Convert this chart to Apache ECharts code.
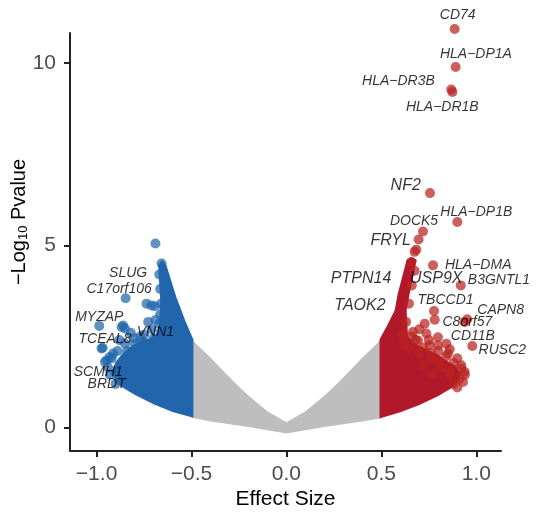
<!DOCTYPE html>
<html>
<head>
<meta charset="utf-8">
<script src="https://cdn.jsdelivr.net/npm/echarts@6/dist/echarts.min.js"></script>
<style>
  html, body { margin: 0; padding: 0; background: #fff; }
  #main { width: 536px; height: 512px; }
</style>
</head>
<body>
<div id="main"></div>
<script>
// axis ticks
const xTicks = [-1, -0.5, 0, 0.5, 1];
const yTicks = [0, 5, 10];

// envelope of the dense, non significant cloud (upper edge then lower edge)
const grayBand = [
  [-0.5, 2.42], [-0.45, 2.17], [-0.4, 1.92], [-0.35, 1.65], [-0.3, 1.38], [-0.25, 1.12],
  [-0.2, 0.88], [-0.15, 0.66], [-0.1, 0.45], [-0.05, 0.3], [0, 0.15], [0.05, 0.3],
  [0.1, 0.45], [0.15, 0.66], [0.2, 0.88], [0.25, 1.12], [0.3, 1.38], [0.35, 1.65],
  [0.4, 1.92], [0.45, 2.17], [0.5, 2.43],
  [0.5, 0.26], [0.4, 0.17], [0.3, 0.09], [0.2, 0.02], [0.1, -0.07], [0, -0.16],
  [-0.1, -0.07], [-0.2, 0.02], [-0.3, 0.09], [-0.4, 0.17], [-0.5, 0.27]
];

// dense part of the down regulated genes
const blueBand = [
  [-0.49, 0.27], [-0.6, 0.43], [-0.7, 0.64], [-0.8, 0.9], [-0.87, 1.12], [-0.9, 1.3],
  [-0.92, 1.55], [-0.9, 1.8], [-0.87, 2.0], [-0.83, 2.2], [-0.78, 2.35], [-0.72, 2.45],
  [-0.68, 2.6], [-0.67, 3.0], [-0.665, 3.5], [-0.676, 4.45], [-0.655, 4.6], [-0.632, 4.45],
  [-0.58, 3.58], [-0.53, 2.9], [-0.49, 2.42]
];

// dense part of the up regulated genes
const redBand = [
  [0.49, 0.25], [0.6, 0.42], [0.7, 0.62], [0.8, 0.87], [0.875, 1.1], [0.91, 1.3],
  [0.92, 1.5], [0.89, 1.7], [0.84, 1.85], [0.8, 2.0], [0.74, 2.15], [0.68, 2.3],
  [0.64, 2.5], [0.633, 3.22], [0.649, 3.67], [0.686, 4.6], [0.66, 4.68], [0.633, 4.6],
  [0.586, 3.67], [0.57, 3.22], [0.53, 2.8], [0.49, 2.42]
];

// single genes, down
const bluePoints = [
  [-0.69, 5.05], [-0.658, 4.5], [-0.847, 3.55], [-0.737, 3.4], [-0.711, 3.35], [-0.628, 3.44],
  [-0.693, 3.33], [-0.728, 2.9], [-0.986, 2.79], [-0.868, 2.76], [-0.851, 2.72], [-0.86, 2.8],
  [-0.968, 2.19], [-0.974, 2.17], [-0.913, 2.03], [-0.947, 1.85], [-0.93, 1.94], [-0.956, 1.8],
  [-0.755, 2.35], [-0.711, 2.3], [-0.632, 2.58], [-0.605, 2.9], [-0.597, 3.22], [-0.632, 2.94],
  [-0.88, 1.3], [-0.9, 1.5], [-0.86, 1.7], [-0.82, 1.95], [-0.78, 2.15], [-0.74, 2.3],
  [-0.7, 2.45], [-0.66, 2.62], [-0.67, 2.85], [-0.665, 3.1], [-0.66, 3.4], [-0.665, 3.8],
  [-0.67, 4.2], [-0.8, 2.3], [-0.84, 2.1], [-0.77, 2.5],
  [-0.9, 1.2], [-0.93, 1.45], [-0.94, 1.65], [-0.92, 1.9], [-0.89, 2.1], [-0.85, 2.3],
  [-0.8, 2.45], [-0.75, 2.55], [-0.71, 2.7], [-0.69, 2.95], [-0.88, 2.4], [-0.82, 2.6]
];

// single genes, up
const redPoints = [
  [0.886, 10.93], [0.891, 9.89], [0.868, 9.27], [0.874, 9.2], [0.756, 6.43], [0.9, 5.64],
  [0.719, 5.38], [0.696, 5.16], [0.684, 4.88], [0.675, 4.82], [0.658, 4.54], [0.772, 4.45],
  [0.918, 3.9], [0.777, 3.2], [0.781, 2.96], [0.952, 2.97], [0.938, 2.9], [0.979, 2.24],
  [0.842, 2.3], [0.614, 2.58], [0.666, 2.62], [0.693, 2.39], [0.737, 2.58], [0.798, 2.48],
  [0.798, 2.26], [0.754, 2.26], [0.623, 2.26], [0.851, 2.03], [0.921, 1.71], [0.938, 1.53],
  [0.912, 1.34], [0.798, 1.8], [0.719, 1.71], [0.772, 1.48], [0.859, 1.43], [0.728, 2.85],
  [0.88, 1.2], [0.86, 1.55], [0.82, 1.65], [0.76, 1.9], [0.7, 2.05], [0.65, 2.2],
  [0.62, 2.45], [0.63, 2.9], [0.645, 3.4], [0.66, 3.9], [0.675, 4.3],
  [0.9, 1.1], [0.93, 1.25], [0.94, 1.45], [0.92, 1.62], [0.88, 1.78], [0.84, 1.95],
  [0.8, 2.1], [0.76, 2.05], [0.72, 2.2], [0.68, 2.4], [0.66, 2.5], [0.86, 2.15],
  [0.9, 1.9], [0.7, 2.7], [0.75, 2.4]
];

// gene labels: name, anchor x, anchor y, large text
const geneLabels = [
  ['CD74', 0.902, 11.31, 0], ['HLA\u2212DP1A', 0.998, 10.23, 0], ['HLA\u2212DR3B', 0.59, 9.5, 0],
  ['HLA\u2212DR1B', 0.821, 8.78, 0], ['NF2', 0.628, 6.65, 1], ['HLA\u2212DP1B', 1.0, 5.91, 0],
  ['DOCK5', 0.672, 5.66, 0], ['FRYL', 0.549, 5.12, 1], ['PTPN14', 0.393, 4.1, 1],
  ['USP9X', 0.789, 4.09, 1], ['HLA\u2212DMA', 1.01, 4.47, 0], ['B3GNTL1', 1.119, 4.04, 0],
  ['TAOK2', 0.387, 3.35, 1], ['TBCCD1', 0.838, 3.51, 0], ['CAPN8', 1.128, 3.22, 0],
  ['C8orf57', 0.953, 2.9, 0], ['CD11B', 0.982, 2.5, 0], ['RUSC2', 1.137, 2.12, 0],
  ['SLUG', -0.834, 4.25, 0], ['C17orf106', -0.881, 3.8, 0], ['MYZAP', -0.986, 3.02, 0],
  ['TCEAL8', -0.956, 2.44, 0], ['VNN1', -0.69, 2.62, 0], ['SCMH1', -0.991, 1.53, 0],
  ['BRDT', -0.947, 1.19, 0]
];

const FONT = '"Liberation Sans", Arial, Helvetica, sans-serif';
const BLUE = '#2166ac';
const RED = '#b2182b';

function band(points, color) {
  return {
    type: 'custom',
    silent: true,
    data: [[0, 0]],
    renderItem: function (params, api) {
      return {
        type: 'polygon',
        shape: { points: points.map(function (p) { return api.coord(p); }) },
        style: { fill: color }
      };
    }
  };
}

function dots(points, color) {
  return {
    type: 'scatter',
    data: points,
    symbolSize: 10,
    clip: false,
    silent: true,
    itemStyle: { color: color, opacity: 0.72 }
  };
}

const chart = echarts.init(document.getElementById('main'));
chart.setOption({
  animation: false,
  backgroundColor: '#fff',
  grid: { left: 70, right: 35, top: 33, bottom: 61, containLabel: false, outerBoundsMode: 'none' },
  xAxis: {
    type: 'value',
    min: -1.14,
    max: 1.13,
    name: 'Effect Size',
    nameLocation: 'middle',
    nameGap: 38,
    nameMoveOverlap: false,
    nameTextStyle: { fontFamily: FONT, fontSize: 21, color: '#000' },
    splitLine: { show: false },
    axisLine: { onZero: false, lineStyle: { color: '#222', width: 2 } },
    axisTick: { customValues: xTicks, length: 6, lineStyle: { color: '#222', width: 2 } },
    axisLabel: {
      customValues: xTicks,
      margin: 13,
      fontFamily: FONT,
      fontSize: 21,
      color: '#4d4d4d',
      formatter: function (v) { return (v < 0 ? '\u2212' : '') + Math.abs(v).toFixed(1); }
    }
  },
  yAxis: {
    type: 'value',
    min: -0.64,
    max: 10.82,
    name: '{a|\u2212Log}{s|10}{a| Pvalue}',
    nameLocation: 'middle',
    nameGap: 40,
    nameRotate: 90,
    nameMoveOverlap: false,
    nameTextStyle: {
      padding: [0, 0, 0, 40],
      rich: {
        a: { fontFamily: FONT, fontSize: 20, color: '#000' },
        s: { fontFamily: FONT, fontSize: 13, color: '#000', padding: [9, 0, 0, 0] }
      }
    },
    splitLine: { show: false },
    axisLine: { onZero: false, lineStyle: { color: '#222', width: 2 } },
    axisTick: { customValues: yTicks, length: 6, lineStyle: { color: '#222', width: 2 } },
    axisLabel: {
      customValues: yTicks,
      margin: 14,
      fontFamily: FONT,
      fontSize: 21,
      color: '#4d4d4d'
    }
  },
  series: [
    band(grayBand, '#bebebe'),
    band(blueBand, BLUE),
    band(redBand, RED),
    dots(bluePoints, BLUE),
    dots(redPoints, '#b8221f'),
    {
      type: 'scatter',
      symbolSize: 0,
      clip: false,
      silent: true,
      z: 10,
      data: geneLabels.map(function (g) {
        return {
          name: g[0],
          value: [g[1], g[2]],
          label: { fontSize: g[3] ? 16 : 14 }
        };
      }),
      label: {
        show: true,
        position: 'inside',
        formatter: '{b}',
        fontFamily: FONT,
        fontStyle: 'italic',
        color: '#000'
      }
    }
  ]
});
</script>
</body>
</html>
